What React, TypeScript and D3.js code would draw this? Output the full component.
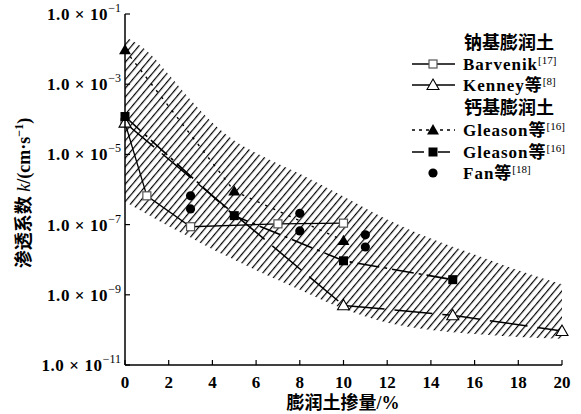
import React, { useEffect, useRef } from 'react'
import * as d3 from 'd3'

// 膨润土掺量 (%) 与渗透系数 k (cm/s)
const barvenikX = [0, 1, 3, 7, 10]
const barvenikK = [8e-5, 6.6e-7, 8.7e-8, 1.05e-7, 1.1e-7]
const kenneyX = [0, 10, 15, 20]
const kenneyK = [8e-5, 5e-10, 2.6e-10, 9.3e-11]
const gleasonTriX = [0, 5, 10]
const gleasonTriK = [9.5e-3, 9e-7, 3.5e-8]
const gleasonSqX = [0, 5, 10, 15]
const gleasonSqK = [1.2e-4, 1.8e-7, 9.3e-9, 2.7e-9]
const fanX = [3, 3, 8, 8, 11, 11]
const fanK = [6.6e-7, 2.8e-7, 2.1e-7, 6.6e-8, 5.1e-8, 2.3e-8]

// 阴影带上下边界
const bandX = [0, 1, 2, 3, 4, 5, 6, 8, 10, 12, 14, 16, 18, 20]
const bandUpper = [2.2e-2, 9e-3, 1.9e-3, 3.6e-4, 8e-5, 2.5e-5, 1.1e-5, 2.8e-6, 6.3e-7, 1.4e-7, 4e-8, 1.4e-8, 5e-9, 2e-9]
const bandLower = [4.5e-7, 2e-7, 9e-8, 4.3e-8, 2e-8, 1e-8, 5e-9, 1.4e-9, 4e-10, 1.6e-10, 1e-10, 7.6e-11, 6.3e-11, 5.6e-11]

const xTicks = [0, 2, 4, 6, 8, 10, 12, 14, 16, 18, 20]
const yTickExp = [-1, -3, -5, -7, -9, -11]

const FONT = '"Liberation Serif", "Noto Sans CJK SC", serif'

export default function App() {
  const ref = useRef<SVGSVGElement>(null)

  useEffect(() => {
    const svg = d3.select(ref.current)
    svg.selectAll('*').remove()

    const x = d3.scaleLinear().domain([0, 20]).range([125, 562])
    const y = d3.scaleLog().domain([1e-11, 1e-1]).range([365, 14])

    const defs = svg.append('defs')
    const pat = defs.append('pattern')
      .attr('id', 'hatch')
      .attr('patternUnits', 'userSpaceOnUse')
      .attr('width', 5.6)
      .attr('height', 10)
      .attr('patternTransform', 'rotate(40)')
    pat.append('line')
      .attr('x1', 1.5).attr('y1', 0).attr('x2', 1.5).attr('y2', 10)
      .attr('stroke', '#000').attr('stroke-width', 1.2)

    // band
    const band = bandX.map((v, i) => ({ x: v, hi: bandUpper[i], lo: bandLower[i] }))
    const area = d3.area<any>()
      .x(d => x(d.x))
      .y0(d => y(d.lo))
      .y1(d => y(d.hi))
      .curve(d3.curveMonotoneX)
    svg.append('path').attr('d', area(band)).attr('fill', 'url(#hatch)')

    const line = d3.line<any>().x(d => x(d[0])).y(d => y(d[1]))
    const pts = (xs: number[], ks: number[]) => xs.map((v, i) => [v, ks[i]])

    const series = [
      { p: pts(barvenikX, barvenikK), dash: null, w: 1.3 },
      { p: pts(kenneyX, kenneyK), dash: '38,10', w: 1.5 },
      { p: pts(gleasonTriX, gleasonTriK), dash: '2.5,6', w: 1.4 },
      { p: pts(gleasonSqX, gleasonSqK), dash: '22,5,3,5', w: 1.6 },
    ]
    series.forEach(s => {
      svg.append('path')
        .attr('d', line(s.p as any))
        .attr('fill', 'none')
        .attr('stroke', '#000')
        .attr('stroke-width', s.w)
        .attr('stroke-dasharray', s.dash)
    })

    const tri = d3.symbol().type(d3.symbolTriangle).size(62)
    const drawMarker = (g: any, kind: string, cx: number, cy: number) => {
      if (kind === 'osq') {
        g.append('rect').attr('x', cx - 4).attr('y', cy - 4).attr('width', 8).attr('height', 8)
          .attr('fill', '#fff').attr('stroke', '#555').attr('stroke-width', 1.2)
      } else if (kind === 'fsq') {
        g.append('rect').attr('x', cx - 4.5).attr('y', cy - 4.5).attr('width', 9).attr('height', 9)
          .attr('fill', '#000')
      } else if (kind === 'otri') {
        g.append('path').attr('d', tri()).attr('transform', `translate(${cx},${cy + 1})`)
          .attr('fill', '#fff').attr('stroke', '#000').attr('stroke-width', 1.1)
      } else if (kind === 'ftri') {
        g.append('path').attr('d', tri()).attr('transform', `translate(${cx},${cy + 1})`)
          .attr('fill', '#000')
      } else {
        g.append('circle').attr('cx', cx).attr('cy', cy).attr('r', 4.6).attr('fill', '#000')
      }
    }

    const mk = svg.append('g')
    barvenikX.forEach((v, i) => drawMarker(mk, 'osq', x(v), y(barvenikK[i])))
    kenneyX.forEach((v, i) => drawMarker(mk, 'otri', x(v), y(kenneyK[i])))
    gleasonTriX.forEach((v, i) => drawMarker(mk, 'ftri', x(v), y(gleasonTriK[i])))
    gleasonSqX.forEach((v, i) => drawMarker(mk, 'fsq', x(v), y(gleasonSqK[i])))
    fanX.forEach((v, i) => drawMarker(mk, 'circ', x(v), y(fanK[i])))

    // axes
    const ax = svg.append('g').attr('font-family', FONT).attr('font-weight', 'bold')
    ax.append('line').attr('x1', x(0)).attr('x2', x(0)).attr('y1', y(1e-1)).attr('y2', y(1e-11))
      .attr('stroke', '#000').attr('stroke-width', 1.5)
    ax.append('line').attr('x1', x(0)).attr('x2', x(20)).attr('y1', y(1e-11)).attr('y2', y(1e-11))
      .attr('stroke', '#000').attr('stroke-width', 1.5)

    xTicks.forEach(t => {
      ax.append('line').attr('x1', x(t)).attr('x2', x(t)).attr('y1', y(1e-11)).attr('y2', y(1e-11) - 5)
        .attr('stroke', '#000').attr('stroke-width', 1.2)
      ax.append('text').attr('x', x(t)).attr('y', 388).attr('text-anchor', 'middle')
        .attr('font-size', 17).text(t)
    })

    yTickExp.forEach(e => {
      const yy = y(Math.pow(10, e))
      ax.append('line').attr('x1', x(0)).attr('x2', x(0) + 5).attr('y1', yy).attr('y2', yy)
        .attr('stroke', '#000').attr('stroke-width', 1.2)
      const t = ax.append('text').attr('x', 121).attr('y', yy + 6).attr('text-anchor', 'end')
        .attr('font-size', 17)
      t.append('tspan').attr('letter-spacing', 0.6).text('1.0 × 10')
      t.append('tspan').attr('font-size', 12).attr('font-weight', 'normal').attr('dy', -8).text(`−${-e}`)
    })

    ax.append('text').attr('x', 343).attr('y', 409).attr('text-anchor', 'middle')
      .attr('font-size', 18).text('膨润土掺量/%')

    const yl = ax.append('text').attr('transform', 'translate(30,193) rotate(-90)')
      .attr('text-anchor', 'middle').attr('font-size', 18)
    yl.append('tspan').text('渗透系数 ')
    yl.append('tspan').attr('font-style', 'italic').attr('font-weight', 'normal').text('k')
    yl.append('tspan').text('/(cm·s')
    yl.append('tspan').attr('font-size', 12).attr('dy', -7).text('−1')
    yl.append('tspan').attr('dy', 7).text(')')

    // legend
    const lg = svg.append('g').attr('font-family', FONT).attr('font-weight', 'bold')
    const rows = [
      { y: 43, head: '钠基膨润土' },
      { y: 64, name: 'Barvenik', sup: '[17]', kind: 'osq', dash: null },
      { y: 85, name: 'Kenney等', sup: '[8]', kind: 'otri', dash: null },
      { y: 108, head: '钙基膨润土' },
      { y: 130, name: 'Gleason等', sup: '[16]', kind: 'ftri', dash: '3,4' },
      { y: 152, name: 'Gleason等', sup: '[16]', kind: 'fsq', dash: '12,5,4,5' },
      { y: 173, name: 'Fan等', sup: '[18]', kind: 'circ', dash: 'none' },
    ]
    rows.forEach((r: any) => {
      if (r.head) {
        lg.append('text').attr('x', 464).attr('y', r.y + 6).attr('font-size', 18).text(r.head)
        return
      }
      if (r.dash !== 'none') {
        lg.append('line').attr('x1', 412).attr('x2', 455).attr('y1', r.y).attr('y2', r.y)
          .attr('stroke', '#000').attr('stroke-width', 1.4).attr('stroke-dasharray', r.dash)
      }
      drawMarker(lg, r.kind, 433, r.y)
      const t = lg.append('text').attr('x', 463).attr('y', r.y + 6).attr('font-size', 17)
      t.append('tspan').attr('letter-spacing', 1).text(r.name)
      t.append('tspan').attr('font-size', 11).attr('font-weight', 'normal').attr('dy', -6).text(r.sup)
    })
  }, [])

  return (
    <svg ref={ref} width={581} height={414}
      style={{ position: 'absolute', left: 0, top: 0, background: '#fff' }} />
  )
}
